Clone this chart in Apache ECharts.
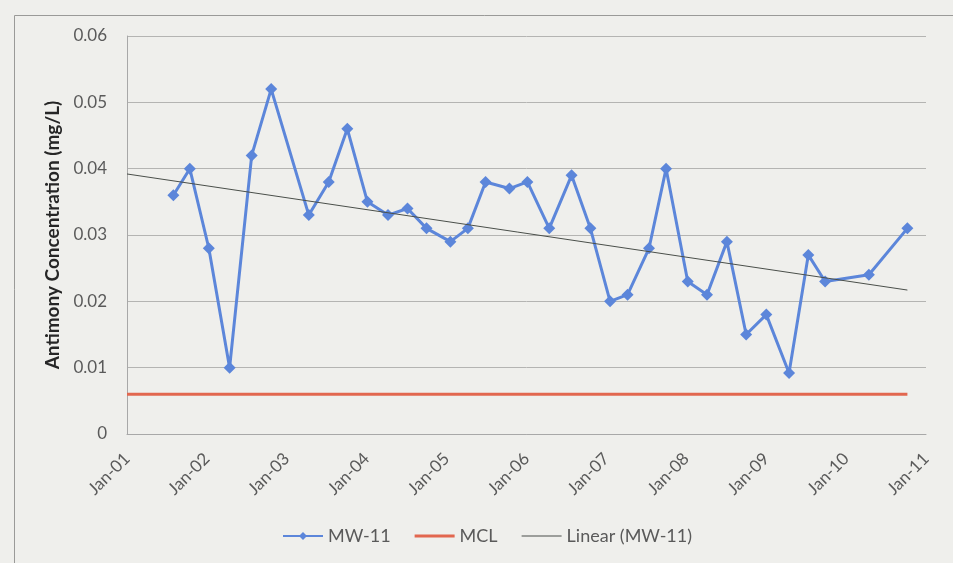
<!DOCTYPE html>
<html>
<head>
<meta charset="utf-8">
<script src="https://cdn.jsdelivr.net/npm/echarts@6/dist/echarts.min.js"></script>
<style>
  html, body { margin: 0; padding: 0; background: #efefec; }
  #chart { width: 953px; height: 563px; }
</style>
</head>
<body>
<div id="chart"></div>
<script>
// Sampling dates for well MW-11
var sampleDates = [
  '2001-08-01', '2001-10-15', '2002-01-10', '2002-04-15', '2002-07-25', '2002-10-22',
  '2003-04-12', '2003-07-12', '2003-10-05', '2004-01-05', '2004-04-08', '2004-07-06',
  '2004-10-01', '2005-01-18', '2005-04-08', '2005-06-28', '2005-10-15', '2006-01-05',
  '2006-04-15', '2006-07-26', '2006-10-20', '2007-01-18', '2007-04-08', '2007-07-15',
  '2007-10-01', '2008-01-08', '2008-04-05', '2008-07-05', '2008-10-01', '2009-01-01',
  '2009-04-15', '2009-07-12', '2009-09-27', '2010-04-15', '2010-10-08'
];
// Antimony concentration, mg/L
var mw11Values = [
  0.036, 0.040, 0.028, 0.010, 0.042, 0.052,
  0.033, 0.038, 0.046, 0.035, 0.033, 0.034,
  0.031, 0.029, 0.031, 0.038, 0.037, 0.038,
  0.031, 0.039, 0.031, 0.020, 0.021, 0.028,
  0.040, 0.023, 0.021, 0.029, 0.015, 0.018,
  0.0092, 0.027, 0.023, 0.024, 0.031
];
// Maximum contaminant level for antimony
var mclDates = ['2001-01-01', '2010-10-08'];
var mclValues = [0.006, 0.006];
// Linear trend of MW-11, end points
var trendDates = ['2001-01-01', '2010-10-08'];
var trendValues = [0.0392, 0.0217];

var yTicks = [0, 0.01, 0.02, 0.03, 0.04, 0.05, 0.06];
var axisStart = '2001-01-01';
var axisEnd = '2011-01-01';

function pairs(xs, ys) {
  return xs.map(function (d, i) { return [d, ys[i]]; });
}

// Plain line legend icons (extra move-to points keep the 40x10 box)
var thickLineIcon = 'path://M0,0 M0,3.5 L40,3.5 L40,6.5 L0,6.5 Z M40,10';
var thinLineIcon = 'path://M0,0 M0,4.5 L40,4.5 L40,5.5 L0,5.5 Z M40,10';

var FONT = 'Lato, "Open Sans", sans-serif';
var chart = echarts.init(document.getElementById('chart'), null, { renderer: 'canvas' });

chart.setOption({
  backgroundColor: '#efefec',
  animation: false,
  textStyle: { fontFamily: FONT },
  graphic: [{
    type: 'rect',
    left: 12, top: 13,
    shape: { width: 980, height: 600 },
    style: { fill: 'none', stroke: '#9a9a98', lineWidth: 1 },
    silent: true
  }],
  grid: { left: 127, right: 27, top: 36, bottom: 129, containLabel: false },
  legend: {
    bottom: 13,
    left: 277,
    itemWidth: 40,
    itemHeight: 10,
    itemGap: 24,
    textStyle: { color: '#5a5a5a', fontSize: 18, fontFamily: FONT },
    data: [
      { name: 'MW-11' },
      { name: 'MCL', icon: thickLineIcon },
      { name: 'Linear (MW-11)', icon: thinLineIcon }
    ]
  },
  xAxis: {
    type: 'time',
    min: axisStart,
    max: axisEnd,
    minInterval: 365 * 24 * 3600 * 1000,
    maxInterval: 366 * 24 * 3600 * 1000,
    splitLine: { show: false },
    axisTick: { show: false },
    axisLine: { show: true, lineStyle: { color: '#a8a8a8', width: 1 } },
    axisLabel: {
      rotate: 45,
      color: '#5a5a5a',
      fontSize: 17,
      fontFamily: FONT,
      margin: 22,
      hideOverlap: false,
      showMinLabel: true,
      showMaxLabel: true,
      formatter: function (v) {
        var d = new Date(v);
        var yy = String(d.getFullYear() % 100).padStart(2, '0');
        return 'Jan-' + yy;
      }
    }
  },
  yAxis: {
    type: 'value',
    min: yTicks[0],
    max: yTicks[yTicks.length - 1],
    interval: 0.01,
    name: 'Antimony Concentration (mg/L)',
    nameLocation: 'middle',
    nameGap: 65,
    nameTextStyle: { color: '#262626', fontSize: 19, fontWeight: 'bold', fontFamily: FONT },
    axisLine: { show: true, lineStyle: { color: '#a8a8a8', width: 1 } },
    axisTick: { show: false },
    splitLine: { show: true, lineStyle: { color: '#b4b4b2', width: 1 } },
    axisLabel: {
      color: '#5a5a5a',
      fontSize: 17,
      fontFamily: FONT,
      margin: 20,
      formatter: function (v) { return v === 0 ? '0' : v.toFixed(2); }
    }
  },
  series: [
    {
      name: 'MW-11',
      type: 'line',
      data: pairs(sampleDates, mw11Values),
      symbol: 'diamond',
      symbolSize: 12,
      showAllSymbol: true,
      lineStyle: { color: '#5c86da', width: 3 },
      itemStyle: { color: '#5c86da' },
      z: 3
    },
    {
      name: 'MCL',
      type: 'line',
      data: pairs(mclDates, mclValues),
      symbol: 'none',
      lineStyle: { color: '#e2674f', width: 3 },
      itemStyle: { color: '#e2674f' },
      z: 2
    },
    {
      name: 'Linear (MW-11)',
      type: 'line',
      data: pairs(trendDates, trendValues),
      symbol: 'none',
      lineStyle: { color: '#4a4f4a', width: 1 },
      itemStyle: { color: '#4a4f4a' },
      z: 4
    }
  ]
});
</script>
</body>
</html>
